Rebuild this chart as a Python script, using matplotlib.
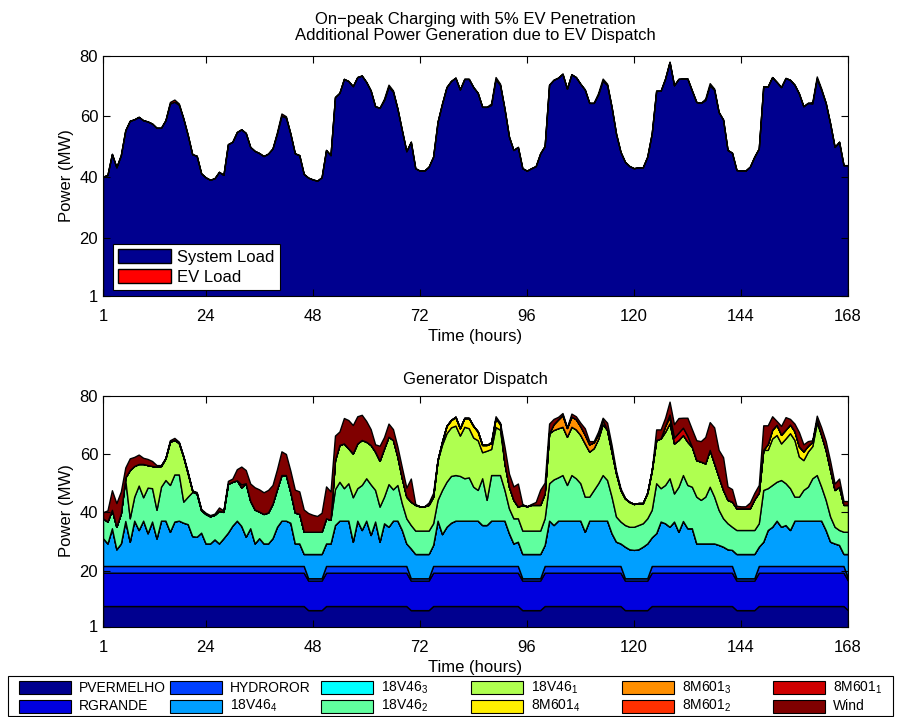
import numpy as np
import matplotlib.pyplot as plt
from matplotlib.patches import Patch, Rectangle

plt.rcParams['font.family'] = ['Liberation Sans', 'DejaVu Sans']
plt.rcParams['mathtext.default'] = 'regular'

hours = np.arange(1, 169)

# system demand (MW), one value per hour
system_load = [
    40.1, 40.7, 47.6, 43.2, 47.2, 55.4, 58.5, 59.0, 59.8, 58.7,
    58.3, 57.6, 56.2, 56.2, 58.7, 64.2, 64.8, 63.8, 59.3, 53.8,
    47.5, 47.0, 41.2, 39.9, 39.1, 39.6, 41.7, 40.7, 50.8, 51.6,
    54.8, 55.7, 54.5, 49.9, 48.6, 47.9, 46.9, 47.7, 49.4, 54.3,
    60.2, 59.6, 54.3, 47.8, 47.2, 41.0, 39.8, 39.2, 38.8, 39.9,
    48.9, 47.2, 66.3, 67.7, 72.3, 71.6, 69.9, 72.9, 73.4, 71.3,
    68.5, 63.3, 62.8, 65.3, 69.7, 68.1, 62.5, 55.4, 48.5, 51.6,
    42.9, 42.1, 42.1, 43.4, 46.7, 58.2, 64.2, 69.6, 71.6, 72.7,
    68.8, 72.3, 72.3, 69.6, 67.7, 63.1, 63.1, 63.7, 72.2, 70.3,
    62.5, 53.3, 48.9, 49.9, 42.9, 42.1, 42.9, 43.6, 47.8, 50.2,
    70.4, 72.0, 72.7, 74.0, 69.1, 73.8, 72.9, 70.7, 68.8, 64.4,
    64.4, 67.2, 71.7, 70.3, 63.1, 54.3, 48.3, 45.0, 43.6, 42.9,
    43.2, 43.2, 46.7, 54.3, 68.4, 68.4, 72.4, 77.9, 70.2, 72.3,
    72.4, 72.4, 68.5, 64.7, 64.4, 65.3, 70.2, 68.7, 61.4, 58.9,
    48.9, 48.0, 42.3, 42.1, 42.1, 43.4, 46.7, 49.4, 69.8, 69.8,
    72.9, 71.3, 69.6, 72.6, 72.0, 70.4, 67.5, 63.3, 64.4, 64.2,
    72.4, 68.7, 64.4, 57.6, 49.9, 51.6, 43.9, 43.9,
]

# on-peak EV charging (MW)
ev_hours = [16, 17, 18, 40, 41, 42, 64, 65, 66, 88, 89, 90,
            112, 113, 114, 136, 137, 138, 160, 161, 162]
ev_mw = [0.5, 0.7, 0.4, 0.5, 0.7, 0.4, 0.5, 0.7, 0.4, 0.5, 0.7, 0.4,
         0.5, 0.7, 0.4, 0.5, 0.7, 0.4, 0.5, 0.7, 0.4]

# upper edge of each dispatch band (MW, cumulative)
night_hours = [47, 48, 49, 50, 70, 71, 72, 73, 74, 95, 96, 97, 98, 99,
               118, 119, 120, 121, 122, 123, 143, 144, 145, 146, 147, 168]
top_pvermelho_day, top_pvermelho_night = 8.0, 6.6
top_rgrande_day, top_rgrande_night = 19.4, 16.7
top_hydroror_day, top_hydroror_night = 21.7, 17.5

top_18v46_4 = [
    31.2, 29.4, 34.6, 27.4, 29.4, 37.1, 30.0, 37.2, 34.0, 37.2,
    32.9, 36.9, 31.1, 37.2, 37.2, 33.4, 36.9, 37.2, 36.5, 36.0,
    31.9, 31.7, 33.1, 29.4, 29.4, 30.8, 29.4, 31.2, 33.1, 35.5,
    37.2, 35.4, 31.7, 34.6, 29.4, 31.2, 29.4, 29.4, 31.2, 35.1,
    37.2, 37.2, 36.5, 29.4, 29.4, 25.8, 25.8, 25.8, 25.8, 25.8,
    29.4, 29.4, 35.7, 37.2, 37.2, 37.2, 30.0, 37.2, 34.0, 37.2,
    32.3, 36.9, 30.0, 36.3, 35.1, 37.2, 37.2, 34.0, 29.4, 27.7,
    25.8, 25.8, 25.8, 25.8, 28.9, 37.2, 32.6, 35.1, 36.5, 37.2,
    37.2, 37.2, 37.2, 37.2, 37.2, 35.7, 35.7, 37.2, 37.2, 37.2,
    37.2, 32.9, 29.4, 30.0, 25.8, 25.8, 25.8, 25.8, 25.8, 28.9,
    37.2, 35.7, 37.2, 37.2, 37.2, 37.2, 37.2, 37.2, 33.4, 37.2,
    37.2, 37.2, 37.2, 37.2, 32.9, 30.0, 29.4, 28.3, 27.4, 27.2,
    27.4, 28.3, 29.4, 31.5, 32.9, 36.9, 36.3, 35.1, 36.9, 33.4,
    37.1, 34.6, 34.6, 29.4, 29.4, 29.4, 29.4, 29.4, 28.9, 28.3,
    27.4, 27.2, 25.8, 25.8, 25.8, 25.8, 25.8, 28.3, 30.0, 34.0,
    35.1, 37.2, 35.1, 35.7, 34.0, 37.2, 37.2, 37.2, 37.2, 37.2,
    37.2, 37.2, 34.0, 30.0, 29.4, 28.9, 25.8, 25.8,
]

top_18v46_2 = [
    38.0, 36.9, 40.9, 35.1, 39.7, 51.1, 38.0, 45.4, 49.2, 45.2,
    48.5, 48.3, 40.9, 48.8, 51.1, 49.4, 53.0, 53.0, 43.7, 45.4,
    47.0, 46.5, 40.8, 39.5, 38.7, 39.2, 40.6, 40.2, 49.8, 50.5,
    51.0, 48.6, 50.0, 44.0, 41.0, 40.3, 39.5, 40.0, 43.0, 48.0,
    52.8, 52.8, 47.0, 40.0, 39.5, 33.4, 33.4, 33.4, 33.4, 33.4,
    38.0, 37.5, 48.0, 50.5, 48.3, 50.0, 45.2, 48.3, 49.4, 51.7,
    49.6, 47.7, 42.0, 45.4, 49.7, 47.9, 49.4, 43.1, 38.0, 35.7,
    33.8, 33.8, 33.8, 33.8, 36.3, 44.3, 47.7, 50.5, 52.5, 52.8,
    52.5, 51.7, 52.0, 48.8, 47.7, 51.7, 44.3, 52.8, 52.8, 52.8,
    47.7, 41.4, 38.0, 38.0, 33.8, 33.8, 33.8, 33.8, 33.8, 38.0,
    50.0, 51.3, 52.0, 52.8, 49.4, 52.8, 51.7, 50.0, 45.4, 45.4,
    47.7, 50.0, 52.8, 51.1, 45.4, 38.6, 36.9, 35.7, 35.1, 35.1,
    35.7, 36.3, 38.0, 40.9, 50.0, 48.3, 49.4, 51.7, 46.5, 48.8,
    52.8, 49.4, 48.8, 45.4, 44.3, 45.4, 48.8, 45.4, 40.9, 38.0,
    36.3, 35.1, 34.0, 34.0, 34.0, 34.0, 34.0, 36.3, 47.7, 48.3,
    49.4, 50.5, 51.1, 50.0, 48.3, 45.4, 45.4, 47.7, 48.8, 51.7,
    52.8, 48.8, 44.3, 38.6, 35.1, 34.0, 33.4, 33.4,
]

top_18v46_1 = [
    38.0, 36.9, 40.9, 35.1, 39.7, 52.0, 54.5, 55.9, 56.6, 56.6,
    56.2, 55.9, 55.7, 55.9, 58.5, 64.2, 64.8, 63.8, 59.1, 53.4,
    47.5, 46.5, 40.8, 39.5, 38.7, 39.2, 40.6, 40.2, 49.8, 50.5,
    51.0, 48.6, 50.0, 44.0, 41.0, 40.3, 39.5, 40.0, 43.0, 48.0,
    52.8, 52.8, 47.0, 40.0, 39.5, 33.4, 33.4, 33.4, 33.4, 33.4,
    38.0, 37.5, 57.9, 63.1, 63.6, 61.9, 60.2, 63.6, 64.8, 64.2,
    63.1, 60.8, 57.7, 61.9, 65.9, 64.8, 59.1, 51.7, 45.4, 43.7,
    42.6, 42.1, 42.1, 42.6, 45.4, 57.9, 63.2, 67.1, 69.1, 69.7,
    66.3, 69.3, 68.8, 65.6, 64.7, 60.6, 61.1, 61.7, 69.2, 68.3,
    56.8, 48.8, 44.3, 42.0, 42.6, 42.1, 42.6, 42.6, 42.6, 46.5,
    67.1, 68.2, 68.8, 69.3, 65.9, 69.3, 68.4, 66.5, 63.6, 60.8,
    62.0, 65.2, 70.2, 68.2, 60.8, 53.4, 47.7, 44.8, 43.6, 42.9,
    43.2, 43.2, 46.7, 54.3, 64.8, 65.3, 67.6, 70.5, 63.6, 64.8,
    66.5, 64.2, 62.5, 57.9, 57.4, 56.8, 61.4, 56.8, 52.2, 47.7,
    44.3, 43.7, 41.4, 41.4, 41.4, 41.4, 44.5, 46.8, 61.4, 61.4,
    65.3, 66.5, 63.6, 65.3, 67.1, 64.8, 59.1, 57.9, 60.8, 62.7,
    70.7, 66.5, 61.4, 54.5, 47.7, 48.8, 42.6, 42.6,
]

# peaking units (hour: MW)
out_8m601_4 = {77: 1.0, 78: 2.5, 79: 2.5, 80: 3.0, 81: 2.5, 82: 3.0, 83: 3.5,
               84: 4.0, 85: 3.0, 86: 2.5, 87: 2.0, 88: 2.0, 89: 3.0, 90: 2.0,
               150: 2.0, 151: 3.0, 152: 3.5, 153: 3.0, 154: 3.0, 155: 3.0,
               156: 3.0, 157: 3.5, 158: 3.0, 159: 2.0, 160: 1.5, 161: 1.0}
out_8m601_3 = {102: 2.0, 103: 3.0, 104: 4.0, 105: 3.0, 106: 3.5, 107: 3.5,
               108: 3.0, 109: 3.0, 110: 2.5, 111: 2.0, 112: 1.5, 113: 1.5,
               127: 2.0, 128: 2.0}
out_8m601_2 = {128: 1.0}
out_8m601_1 = {32: 1.0, 129: 2.0, 130: 2.5, 131: 2.5, 132: 2.0}

gen_names = ['PVERMELHO', 'RGRANDE', 'HYDROROR', '18V46$_4$', '18V46$_3$',
             '18V46$_2$', '18V46$_1$', '8M601$_4$', '8M601$_3$', '8M601$_2$',
             '8M601$_1$', 'Wind']
gen_colors = [(0, 0, 0.5625), (0, 0, 0.875), (0, 0.25, 1), (0, 0.625, 1),
              (0, 1, 1), (0.375, 1, 0.625), (0.6875, 1, 0.3125),
              (1, 0.9375, 0), (1, 0.5625, 0), (1, 0.1875, 0),
              (0.8125, 0, 0), (0.5, 0, 0)]


def hourly(table):
    out = np.zeros(len(hours))
    for h, mw in table.items():
        out[h - 1] = mw
    return out


load = np.array(system_load)
ev = hourly(dict(zip(ev_hours, ev_mw)))
total = load + ev

is_night = np.isin(hours, night_hours)
edges = np.vstack([
    np.where(is_night, top_pvermelho_night, top_pvermelho_day),
    np.where(is_night, top_rgrande_night, top_rgrande_day),
    np.where(is_night, top_hydroror_night, top_hydroror_day),
    top_18v46_4,
    top_18v46_4,
    top_18v46_2,
    top_18v46_1,
])
thermal = np.diff(np.vstack([np.zeros(len(hours)), edges]), axis=0)
peakers = [hourly(t) for t in (out_8m601_4, out_8m601_3, out_8m601_2, out_8m601_1)]
wind = np.clip(total - edges[-1] - sum(peakers), 0, None)
dispatch = list(thermal) + peakers + [wind]

fig = plt.figure(figsize=(9.01, 7.17), dpi=100)
ax1 = fig.add_axes([103 / 901, 1 - 295.5 / 717, 745 / 901, 240 / 717])
ax2 = fig.add_axes([103 / 901, 1 - 626.5 / 717, 745 / 901, 231 / 717])

ax1.stackplot(hours, load, ev, colors=[(0, 0, 0.5625), (1, 0, 0)],
              edgecolor='k', linewidth=1)
ax1.set_title('On\u2212peak Charging with 5% EV Penetration\n'
              'Additional Power Generation due to EV Dispatch',
              fontsize=12, linespacing=1.1, pad=11)
leg1 = ax1.legend(handles=[Patch(facecolor=(0, 0, 0.5625), edgecolor='k'),
                           Patch(facecolor=(1, 0, 0), edgecolor='k')],
                  labels=['System Load', 'EV Load'], loc='lower left',
                  bbox_to_anchor=(10 / 745, 5.5 / 240), borderaxespad=0,
                  fontsize=12, fancybox=False, edgecolor='k', framealpha=1,
                  handlelength=3.2, handleheight=0.9, handletextpad=0.36,
                  borderpad=0.3, labelspacing=0.26)
leg1.get_frame().set_linewidth(0.8)

ax2.stackplot(hours, *dispatch, colors=gen_colors, edgecolor='k', linewidth=1)
ax2.set_title('Generator Dispatch', fontsize=12, pad=8)

for ax in (ax1, ax2):
    ax.set_xlim(1, 168)
    ax.set_ylim(1, 80)
    ax.set_xticks([1, 24, 48, 72, 96, 120, 144, 168])
    ax.set_yticks([1, 20, 40, 60, 80])
    ax.tick_params(direction='in', top=True, right=True, length=5,
                   labelsize=12, width=0.8)
    ax.tick_params(axis='x', pad=9.5)
    ax.set_xlabel('Time (hours)', fontsize=12, labelpad=4)
    ax.set_ylabel('Power (MW)', fontsize=12, labelpad=4)
    for s in ax.spines.values():
        s.set_linewidth(0.8)

# generator legend box along the bottom edge, pixel coordinates
lax = fig.add_axes([0, 0, 1, 1])
lax.set_xlim(0, 901)
lax.set_ylim(717, 0)
lax.axis('off')
lax.add_patch(Rectangle((8, 676), 885, 40, facecolor='white', edgecolor='k',
                        linewidth=0.8))
for i, (name, color) in enumerate(zip(gen_names, gen_colors)):
    x0 = 19 + 150.8 * (i // 2)
    yc = 687.5 + 18.5 * (i % 2)
    lax.add_patch(Rectangle((x0, yc - 6.5), 52, 13, facecolor=color,
                            edgecolor='k', linewidth=0.8))
    lax.text(x0 + 60, yc, name, fontsize=10, va='center', ha='left')

fig.savefig('out.png', dpi=100)
